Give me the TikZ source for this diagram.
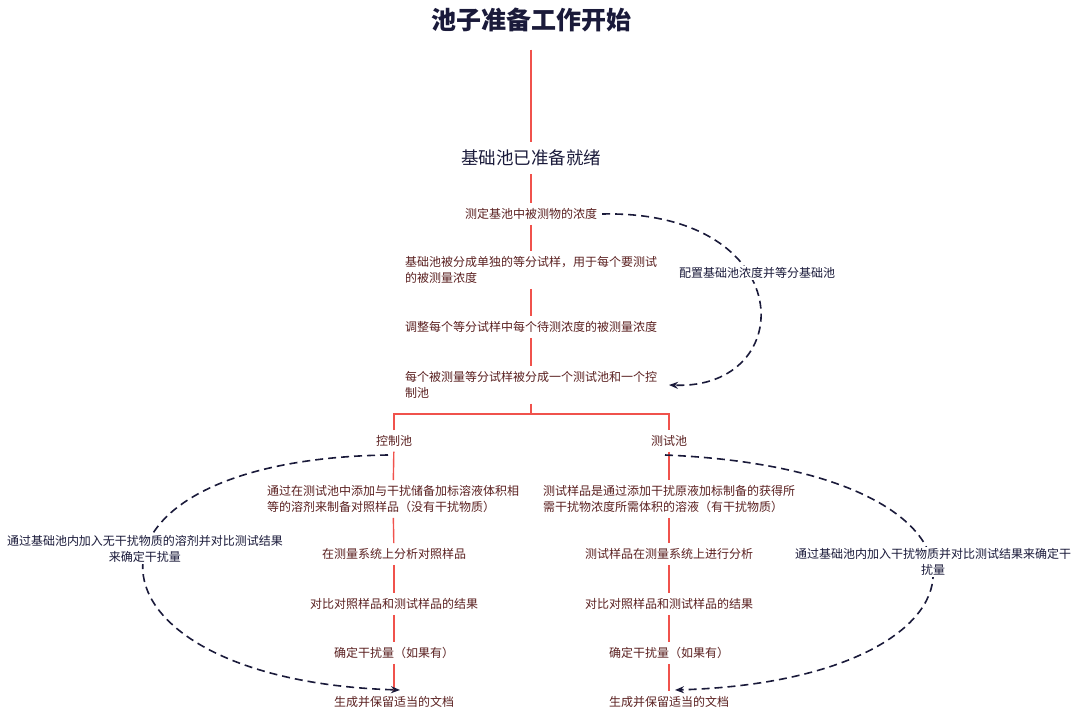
\documentclass[tikz,border=0pt]{standalone}
\usepackage{fontspec}
\setmainfont{Noto Sans CJK SC}
\usetikzlibrary{arrows.meta}
\definecolor{txt}{HTML}{5A2020}
\definecolor{redl}{HTML}{F0524C}
\definecolor{navy}{HTML}{1A1A3A}
\tikzset{
 lbl/.style={font=\fontsize{12}{16}\selectfont,text=txt,inner sep=5pt,align=center},
 lbll/.style={lbl,align=left},
 side/.style={font=\fontsize{12}{16}\selectfont,text=navy,fill=white,inner sep=1pt,align=center},
 redline/.style={draw=redl,line width=1.4pt},
 dashc/.style={draw=navy,line width=1.6pt,dash pattern=on 8pt off 5pt,-{Stealth[length=9pt,width=7pt]}}
}
\begin{document}
\begin{tikzpicture}[x=1pt,y=-1pt]
\useasboundingbox (0,0) rectangle (1080,719);
\node[font=\fontsize{25}{28}\selectfont\bfseries,text=navy] (title) at (531,20) {池子准备工作开始};
\node[font=\fontsize{17.5}{20}\selectfont,text=navy,inner sep=8pt] (base) at (531,158) {基础池已准备就绪};
\node[lbl] (n1) at (531,214) {测定基池中被测物的浓度};
\node[lbll] (n2) at (531,270) {基础池被分成单独的等分试样，用于每个要测试\\的被测量浓度\hspace*{180pt}};
\node[lbl] (n3) at (531,327) {调整每个等分试样中每个待测浓度的被测量浓度};
\node[lbll] (n4) at (531,385) {每个被测量等分试样被分成一个测试池和一个控\\制池\hspace*{228pt}};
\node[lbl] (k) at (394,441) {控制池};
\node[lbl] (t) at (669,441) {测试池};
\node[lbll] (c1) at (393,499) {通过在测试池中添加与干扰储备加标溶液体积相\\等的溶剂来制备对照样品（没有干扰物质）};
\node[lbl] (c2) at (394,554) {在测量系统上分析对照样品};
\node[lbl] (c3) at (394,604) {对比对照样品和测试样品的结果};
\node[lbl] (c4) at (394,653) {确定干扰量（如果有）};
\node[lbl] (c5) at (394,702) {生成并保留适当的文档};
\node[lbll] (t1) at (669,499) {测试样品是通过添加干扰原液加标制备的获得所\\需干扰物浓度所需体积的溶液（有干扰物质）};
\node[lbl] (t2) at (669,554) {测试样品在测量系统上进行分析};
\node[lbl] (t3) at (669,604) {对比对照样品和测试样品的结果};
\node[lbl] (t4) at (669,653) {确定干扰量（如果有）};
\node[lbl] (t5) at (669,702) {生成并保留适当的文档};
% red connectors
\draw[redline] (title.south) ++(0,14) -- (base.north);
\draw[redline] (base) -- (n1);
\draw[redline] (n1) -- (n2);
\draw[redline] (n2) -- (n3);
\draw[redline] (n3) -- (n4);
\coordinate (hl) at (394,414);
\coordinate (hr) at (669,414);
\coordinate (hm) at (531,414);
\draw[redline] (n4.south -| hm) -- (hm);
\draw[redline] (k.north) -- (hl) -- (hr) -- (t.north);
\foreach \a/\b in {k/c1,c1/c2,c2/c3,c3/c4,c4/c5,t/t1,t1/t2,t2/t3,t3/t4,t4/t5}
  \draw[redline] (\a) -- (\b);
% dashed curves
\coordinate (a1) at (669,385);
\draw[dashc] (n1.east) .. controls (800,210) and (800,390) .. (a1);
\coordinate (a2) at (400,690);
\coordinate (s2) at (388,455);
\draw[dashc] (s2) .. controls (50,460) and (70,680) .. (a2);
\coordinate (a3) at (675,690);
\coordinate (s3) at (665,455);
\draw[dashc] (s3) .. controls (1030,470) and (1010,680) .. (a3);
\node[side] (l1) at (757,273) {配置基础池浓度并等分基础池};
\node[side] (l2) at (145,549) {通过基础池内加入无干扰物质的溶剂并对比测试结果\\来确定干扰量};
\node[side] (l3) at (933,562) {通过基础池内加入干扰物质并对比测试结果来确定干\\扰量};
\end{tikzpicture}
\end{document}
